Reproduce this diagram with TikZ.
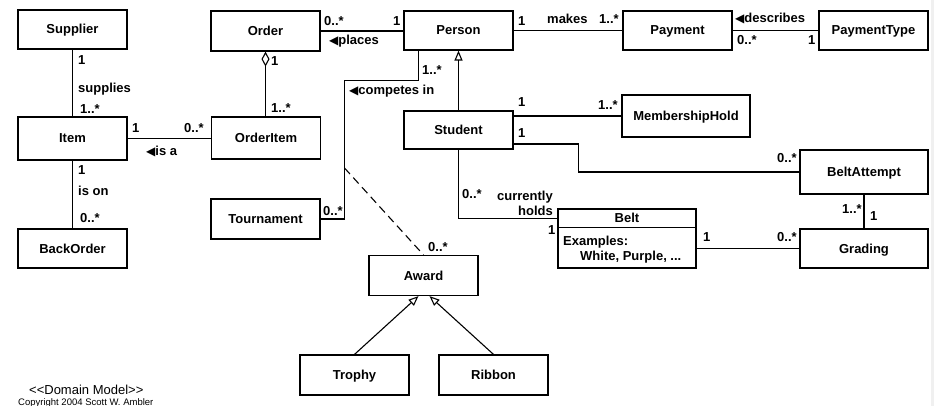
\documentclass[tikz,border=0pt]{standalone}
\usepackage{fontspec}
\setmainfont{Liberation Sans}
\newfontfamily\symfont{DejaVu Sans}
\usetikzlibrary{arrows.meta,calc}

\newcommand{\lf}{\bfseries\fontsize{13}{15}\selectfont}
\newcommand{\rdir}{{\symfont\fontsize{12}{12}\selectfont ◀}}

\begin{document}
\begin{tikzpicture}[x=1pt, y=-1pt,
    cls/.style={draw, line width=1.2pt, minimum width=109pt, minimum height=40pt,
        inner sep=0pt, text height=9pt, text depth=0pt, font=\lf},
    lbl/.style={inner sep=0pt, anchor=west, text height=9pt, text depth=0pt, font=\lf},
    assoc/.style={line width=1.1pt},
    gen/.style={line width=1.1pt, arrows={-Triangle[open, length=10pt, width=8pt]}},
    agg/.style={line width=1.1pt, arrows={Diamond[open, length=15pt, width=8pt]-}}]

    \useasboundingbox (0,0) rectangle (934,406);
    \fill[gray!12] (931,0) rectangle (934,406);

    % Classes
    \node[cls, minimum height=39pt] (Supplier) at (72.5,29.5) {Supplier};
    \node[cls] (Order) at (265.5,31) {Order};
    \node[cls, minimum height=39pt] (Person) at (458.5,30.5) {Person};
    \node[cls, minimum height=39pt] (Payment) at (677.5,30.5) {Payment};
    \node[cls, minimum height=39pt] (PaymentType) at (873.5,30.5) {PaymentType};
    \node[cls, minimum height=43pt] (Item) at (72.5,138.5) {Item};
    \node[cls, minimum height=42pt] (OrderItem) at (266,138) {OrderItem};
    \node[cls, minimum height=39pt] (BackOrder) at (72.5,248.5) {BackOrder};
    \node[cls] (Tournament) at (265.5,219) {Tournament};
    \node[cls, minimum height=38pt] (Student) at (458.5,130) {Student};
    \node[cls, minimum width=128pt, minimum height=42pt] (MembershipHold) at (686,116) {MembershipHold};
    \node[cls, minimum width=128pt, minimum height=44pt] (BeltAttempt) at (864,172) {BeltAttempt};
    \node[cls, minimum width=128pt, minimum height=39pt] (Grading) at (864,248.5) {Grading};
    \node[cls] (Award) at (423.5,275.5) {Award};
    \node[cls] (Trophy) at (354.5,375) {Trophy};
    \node[cls] (Ribbon) at (493.5,375) {Ribbon};

    % Belt with its compartment
    \node[cls, minimum width=138pt, minimum height=59pt] (Belt) at (627,238.5) {};
    \draw[line width=1.2pt] ([yshift=-19pt]Belt.north west) -- ([yshift=-19pt]Belt.north east);
    \node[lbl, anchor=center] (BeltName) at ([yshift=-9.5pt]Belt.north) {Belt};
    \node[lbl] (BeltEx) at (563,240.5) {Examples:};
    \node[lbl] (BeltVals) at (580,256) {White, Purple, ...};

    % Associations
    \draw[assoc] (Supplier) -- (Item);
    \draw[assoc] (Item.east) -- (Item.east -| OrderItem.west);
    \draw[agg] (Order.south) -- (Order.south |- OrderItem.north);
    \draw[assoc] (Item) -- (BackOrder);
    \draw[assoc] (Order.east) -- (Order.east -| Person.west);
    \draw[assoc] (Person) -- (Payment);
    \draw[assoc] (Payment) -- (PaymentType);
    \draw[assoc] (Person.south) ++(-40,0) |- ++(-74,30) |- (Tournament.east);
    \draw[assoc] (MembershipHold.west -| Student.east) -- (MembershipHold.west);
    \draw[assoc] ([yshift=-14pt]Student.east) -- ++(65,0) |- (BeltAttempt.west);
    \draw[assoc] (Student.south) |- ([yshift=-10pt]Belt.north west);
    \draw[assoc] (Grading.west -| Belt.east) -- (Grading.west);
    \draw[assoc] (BeltAttempt) -- (Grading);

    % Association class link
    \coordinate (cmpMid) at (344.5,168);
    \draw[assoc, dash pattern=on 8pt off 5pt] (cmpMid) -- (Award.north);

    % Generalizations
    \draw[gen] (Student) -- (Person);
    \draw[gen] (Trophy.north) -- ([xshift=-5pt]Award.south);
    \draw[gen] (Ribbon.north) -- ([xshift=6pt]Award.south);

    % Multiplicities and roles
    \node[lbl] (supA) at (78,60) {1};
    \node[lbl] (supN) at (78,88) {supplies};
    \node[lbl] (supB) at (80,109) {1..*};
    \node[lbl] (isaA) at (132,128) {1};
    \node[lbl] (isaB) at (184,128) {0..*};
    \node[lbl] (isaN) at (146,151) {\rdir is a};
    \node[lbl] (ordA) at (271,61) {1};
    \node[lbl] (ordB) at (271,108) {1..*};
    \node[lbl] (isonA) at (78,170) {1};
    \node[lbl] (isonN) at (78,191) {is on};
    \node[lbl] (isonB) at (80,218) {0..*};
    \node[lbl] (plcA) at (324,21) {0..*};
    \node[lbl] (plcB) at (393,21) {1};
    \node[lbl] (plcN) at (329,40) {\rdir places};
    \node[lbl] (mksA) at (518,21) {1};
    \node[lbl] (mksN) at (547,19) {makes};
    \node[lbl] (mksB) at (599,19) {1..*};
    \node[lbl] (dscN) at (735,18) {\rdir describes};
    \node[lbl] (dscA) at (737,40) {0..*};
    \node[lbl] (dscB) at (808,40) {1};
    \node[lbl] (cmpA) at (422,70) {1..*};
    \node[lbl] (cmpN) at (349,90) {\rdir competes in};
    \node[lbl] (cmpB) at (323,211) {0..*};
    \node[lbl] (awdA) at (428,247) {0..*};
    \node[lbl] (mbrA) at (518,102) {1};
    \node[lbl] (mbrB) at (598,105) {1..*};
    \node[lbl] (batA) at (518,133) {1};
    \node[lbl] (batB) at (777,158) {0..*};
    \node[lbl] (hldA) at (462,194) {0..*};
    \node[lbl, anchor=east] (hldN1) at (553,196) {currently};
    \node[lbl, anchor=east] (hldN2) at (553,211) {holds};
    \node[lbl] (hldB) at (548,230) {1};
    \node[lbl] (grdA) at (703,237) {1};
    \node[lbl] (grdB) at (777,237) {0..*};
    \node[lbl] (tryA) at (842,209) {1..*};
    \node[lbl] (tryB) at (870,216) {1};

    % Caption
    \node[anchor=west, inner sep=0pt, font=\fontsize{13}{15}\selectfont] (dmTitle) at (29,390) {{<}{<}Domain Model{>}{>}};
    \node[anchor=west, inner sep=0pt, text height=7pt, text depth=0pt, font=\fontsize{9.5}{11}\selectfont] (dmCopy) at (18,401.5) {Copyright 2004 Scott W. Ambler};

\end{tikzpicture}
\end{document}
